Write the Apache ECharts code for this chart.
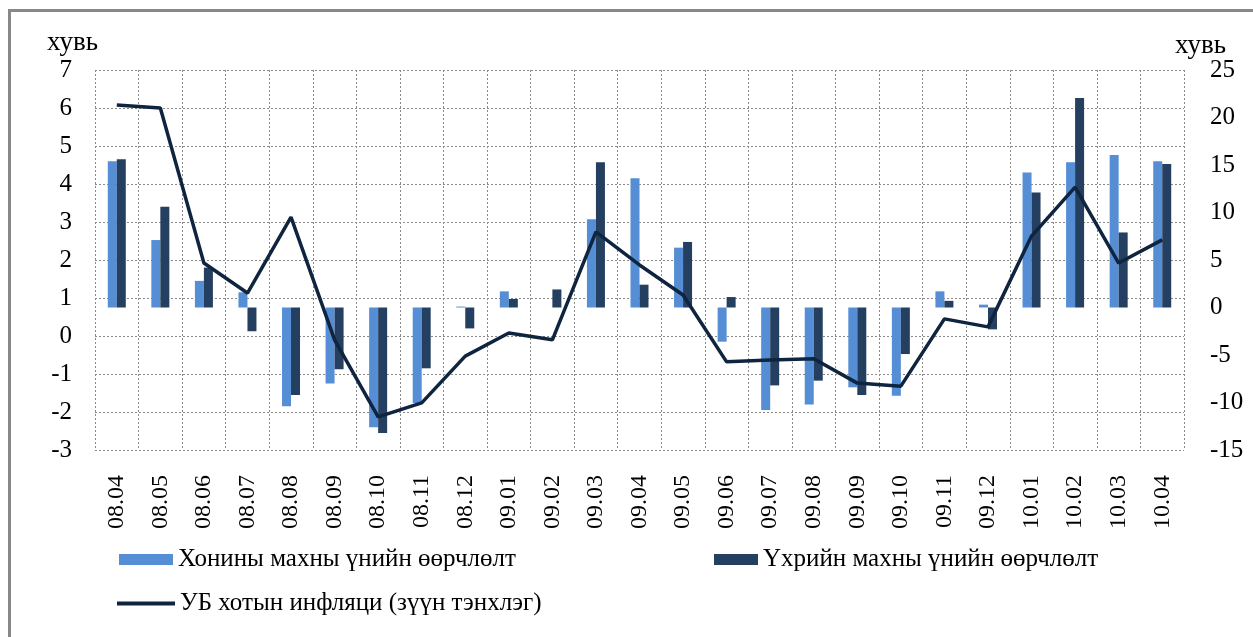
<!DOCTYPE html>
<html>
<head>
<meta charset="utf-8">
<script src="https://cdn.jsdelivr.net/npm/echarts@6/dist/echarts.min.js"></script>
<style>
html,body{margin:0;padding:0;background:#fff;}
#c{width:1253px;height:637px;}
</style>
</head>
<body>
<div id="c"></div>
<script>
const categories = ['08.04','08.05','08.06','08.07','08.08','08.09','08.10','08.11','08.12',
  '09.01','09.02','09.03','09.04','09.05','09.06','09.07','09.08','09.09','09.10','09.11','09.12',
  '10.01','10.02','10.03','10.04'];
const sheepMeat = [15.4, 7.1, 2.8, 1.6, -10.4, -8.0, -12.6, -10.05, 0.1,
  1.7, 0, 9.3, 13.6, 6.3, -3.6, -10.8, -10.2, -8.4, -9.3, 1.7, 0.3,
  14.2, 15.3, 16.05, 15.4];
const beefMeat = [15.6, 10.6, 4.2, -2.5, -9.2, -6.5, -13.2, -6.4, -2.2,
  0.9, 1.9, 15.3, 2.4, 6.9, 1.1, -8.2, -7.7, -9.2, -4.9, 0.7, -2.3,
  12.1, 22.05, 7.9, 15.1];
const ubInflation = [6.08, 6.0, 1.92, 1.13, 3.13, -0.1, -2.13, -1.76, -0.53,
  0.08, -0.1, 2.74, 1.87, 1.08, -0.68, -0.63, -0.6, -1.24, -1.32, 0.45, 0.24,
  2.63, 3.92, 1.92, 2.53];
const names = ['Хонины махны үнийн өөрчлөлт', 'Үхрийн махны үнийн өөрчлөлт', 'УБ хотын инфляци (зүүн тэнхлэг)'];

const FONT = 'Liberation Serif';
const chart = echarts.init(document.getElementById('c'), null, {renderer: 'canvas'});
const legendText = {fontFamily: FONT, fontSize: 25, color: '#000'};
chart.setOption({
  animation: false,
  backgroundColor: '#fff',
  grid: {left: 95, right: 69, top: 70, bottom: 187, containLabel: false},
  xAxis: {
    type: 'category', data: categories, boundaryGap: true,
    axisLine: {show: false}, axisTick: {show: false},
    axisLabel: {rotate: 90, margin: 25, fontFamily: FONT, fontSize: 24, color: '#000', interval: 0},
    splitLine: {show: true, interval: 0, lineStyle: {color: '#8a8a8a', type: [2, 2], width: 1}}
  },
  yAxis: [
    {type: 'value', min: -3, max: 7, interval: 1, position: 'left',
     axisLine: {show: false}, axisTick: {show: false},
     axisLabel: {margin: 23, fontFamily: FONT, fontSize: 25, color: '#000'},
     splitLine: {show: true, lineStyle: {color: '#8a8a8a', type: [2, 2], width: 1}}},
    {type: 'value', min: -15, max: 25, interval: 5, position: 'right',
     axisLine: {show: false}, axisTick: {show: false},
     axisLabel: {margin: 26, fontFamily: FONT, fontSize: 25, color: '#000'},
     splitLine: {show: false}}
  ],
  legend: [
    {data: [{name: names[0], icon: 'rect'}], left: 119, top: 547, itemWidth: 54, itemHeight: 11, textStyle: legendText, selectedMode: false, padding: 0},
    {data: [{name: names[1], icon: 'rect'}], left: 714, top: 547, itemWidth: 44, itemHeight: 11, textStyle: legendText, selectedMode: false, padding: 0},
    {data: [{name: names[2], icon: 'rect'}], left: 117, top: 591, itemWidth: 58, itemHeight: 4, textStyle: legendText, selectedMode: false, padding: 0}
  ],
  graphic: [
    {type: 'rect', shape: {x: 9.5, y: 10.5, width: 1400, height: 800}, style: {fill: 'none', stroke: '#888', lineWidth: 3}, silent: true},
    {type: 'text', left: 47, top: 29, style: {text: 'хувь', font: '27px "Liberation Serif"', fill: '#000'}},
    {type: 'text', left: 1175, top: 32, style: {text: 'хувь', font: '27px "Liberation Serif"', fill: '#000'}}
  ],
  series: [
    {name: names[0], type: 'bar', yAxisIndex: 1, data: sheepMeat, barWidth: 9, barGap: '0%', itemStyle: {color: '#558ed5'}},
    {name: names[1], type: 'bar', yAxisIndex: 1, data: beefMeat, barWidth: 9, barGap: '0%', itemStyle: {color: '#243f60'}},
    {name: names[2], type: 'line', yAxisIndex: 0, data: ubInflation, showSymbol: false, symbol: 'none', z: 5,
     lineStyle: {color: '#0f243e', width: 3.5}, itemStyle: {color: '#0f243e'}}
  ]
});
</script>
</body>
</html>
